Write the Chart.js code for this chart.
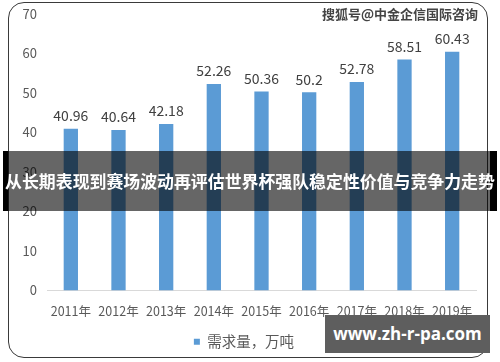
<!DOCTYPE html>
<html>
<head>
<meta charset="utf-8">
<script src="https://cdn.jsdelivr.net/npm/chart.js@4.4.0/dist/chart.umd.min.js"></script>
<style>
  html, body { margin: 0; padding: 0; background: #fff; }
  #wrap { position: relative; width: 500px; height: 362px; overflow: hidden; font-family: "Noto Sans CJK SC", sans-serif; }
  #frame { position: absolute; left: 8px; top: 2px; width: 480px; height: 356px; border: 1.5px solid #3a3a3a; border-radius: 16px; box-sizing: border-box; }
  #chart { position: absolute; left: 0; top: 0; }
  #banner { position: absolute; left: 3px; top: 151px; width: 494px; height: 60px; background: rgba(0,0,0,0.6); border-left: 5px solid #000; border-right: 7px solid #000; box-sizing: border-box; }
  #banner span { position: absolute; left: -5px; width: 494px; top: 0; line-height: 60px; text-align: center; color: #fff; font-weight: bold; font-size: 16.9px; white-space: nowrap; }
  #mark { position: absolute; right: 22px; top: 4px; font-size: 13px; font-weight: bold; color: #444; text-shadow: 0 0 2px #fff, 0 0 2px #fff; white-space: nowrap; }
  #site { position: absolute; left: 325px; top: 315px; width: 165px; height: 38px; background: #5e5e5e; color: #fff; font-weight: bold; font-size: 17px; line-height: 38px; text-align: center; font-family: "Open Sans", "DejaVu Sans", sans-serif; }
</style>
</head>
<body>
<div id="wrap">
  <div id="frame"></div>
  <canvas id="chart" width="500" height="362"></canvas>
  <div id="mark">搜狐号@中金企信国际咨询</div>
  <div id="banner"><span>从长期表现到赛场波动再评估世界杯强队稳定性价值与竞争力走势</span></div>
  <div id="site">www.zh-r-pa.com</div>
</div>
<script>
const years  = ['2011年','2012年','2013年','2014年','2015年','2016年','2017年','2018年','2019年'];
const demand = [40.96, 40.64, 42.18, 52.26, 50.36, 50.2, 52.78, 58.51, 60.43];
const seriesName = '需求量，万吨';

// value labels above each bar
const barLabels = {
  id: 'barLabels',
  afterDatasetsDraw(chart) {
    const ctx = chart.ctx;
    const meta = chart.getDatasetMeta(0);
    ctx.save();
    ctx.fillStyle = '#404040';
    ctx.font = '14px "Noto Sans CJK SC"';
    ctx.textAlign = 'center';
    ctx.textBaseline = 'bottom';
    meta.data.forEach((bar, i) => {
      ctx.fillText(String(demand[i]), bar.x, bar.y - 6);
    });
    ctx.restore();
  }
};

new Chart(document.getElementById('chart'), {
  type: 'bar',
  data: {
    labels: years,
    datasets: [{
      label: seriesName,
      data: demand,
      backgroundColor: '#5b9bd5',
      categoryPercentage: 1,
      barPercentage: 0.3
    }]
  },
  options: {
    responsive: false,
    animation: false,
    layout: { padding: { left: 12, right: 24, top: 14, bottom: 3 } },
    plugins: {
      tooltip: { enabled: false },
      legend: {
        position: 'bottom',
        labels: {
          color: '#595959',
          font: { family: '"Noto Sans CJK SC"', size: 14.5 },
          boxWidth: 6, boxHeight: 6,
          padding: 11
        }
      }
    },
    scales: {
      x: {
        grid: { display: false },
        border: { color: '#d9d9d9' },
        ticks: { color: '#595959', font: { family: '"Noto Sans CJK SC"', size: 12.5 }, maxRotation: 0, padding: 5 }
      },
      y: {
        min: 0, max: 70,
        grid: { display: false },
        border: { display: false },
        afterFit(scale) { scale.width = 35; },
        ticks: { stepSize: 10, color: '#595959', font: { family: '"Noto Sans CJK SC"', size: 13 }, padding: 2 }
      }
    }
  },
  plugins: [barLabels]
});
</script>
</body>
</html>
